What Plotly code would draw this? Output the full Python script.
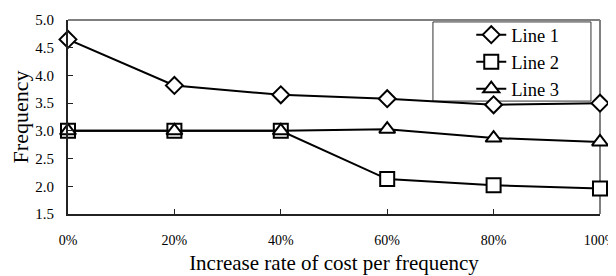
import plotly.graph_objects as go

categories = ["0%", "20%", "40%", "60%", "80%", "100%"]
line1 = [4.65, 3.82, 3.65, 3.58, 3.47, 3.50]
line2 = [3.0, 3.0, 3.0, 2.13, 2.02, 1.96]
line3 = [3.0, 3.0, 3.0, 3.03, 2.87, 2.80]
names = ["Line 1", "Line 2", "Line 3"]
symbols = ["diamond", "square", "triangle-up"]
sizes = [13, 14, 14]

fig = go.Figure()
for name, vals, sym, sz in zip(names, [line1, line2, line3], symbols, sizes):
    fig.add_trace(go.Scatter(
        x=categories, y=vals, name=name, mode="lines+markers",
        line=dict(color="black", width=2),
        marker=dict(symbol=sym, size=sz, color="white",
                    line=dict(color="black", width=2)),
        cliponaxis=False,
    ))

font_family = "Liberation Serif, Times New Roman, serif"
# page body has an 8px default margin, so the figure is sized to fill the window
fig.update_layout(
    width=608, height=268,
    margin=dict(l=60, r=16, t=12, b=62, autoexpand=False),
    paper_bgcolor="white", plot_bgcolor="white",
    font=dict(family=font_family, color="black"),
    showlegend=True,
    legend=dict(x=0.758, y=1.02, xanchor="left", yanchor="top",
                bgcolor="rgba(0,0,0,0)", borderwidth=0,
                font=dict(size=18.5, family=font_family), tracegroupgap=0),
    xaxis=dict(
        type="category", range=[0, 5], automargin=False,
        showgrid=False, zeroline=False,
        showline=True, linecolor="#222222", linewidth=2,
        ticks="inside", ticklen=5, tickwidth=1, tickcolor="#222222",
        tickfont=dict(size=14, family=font_family),
        ticklabelstandoff=12,
        title=dict(text="Increase rate of cost per frequency", font=dict(size=21, family=font_family), standoff=9),
    ),
    yaxis=dict(
        range=[1.5, 5.0], dtick=0.5, tickformat=".1f", automargin=False,
        showgrid=False, zeroline=False,
        showline=True, linecolor="#222222", linewidth=2,
        ticks="inside", ticklen=5, tickwidth=1, tickcolor="#222222",
        tickfont=dict(size=15, family=font_family),
        ticklabelstandoff=9,
        title=dict(text="Frequency", font=dict(size=22, family=font_family), standoff=17),
    ),
    shapes=[
        dict(type="line", xref="paper", yref="paper", x0=0, x1=1, y0=1, y1=1,
             line=dict(color="gray", width=2), layer="below"),
        dict(type="line", xref="paper", yref="paper", x0=1, x1=1, y0=0, y1=1,
             line=dict(color="gray", width=2), layer="below"),
        dict(type="rect", xref="paper", yref="paper", x0=0.686, x1=0.983, y0=0.582, y1=0.99,
             line=dict(color="#333333", width=1), fillcolor="white", layer="below"),
    ],
)
fig.write_html("out.html")
